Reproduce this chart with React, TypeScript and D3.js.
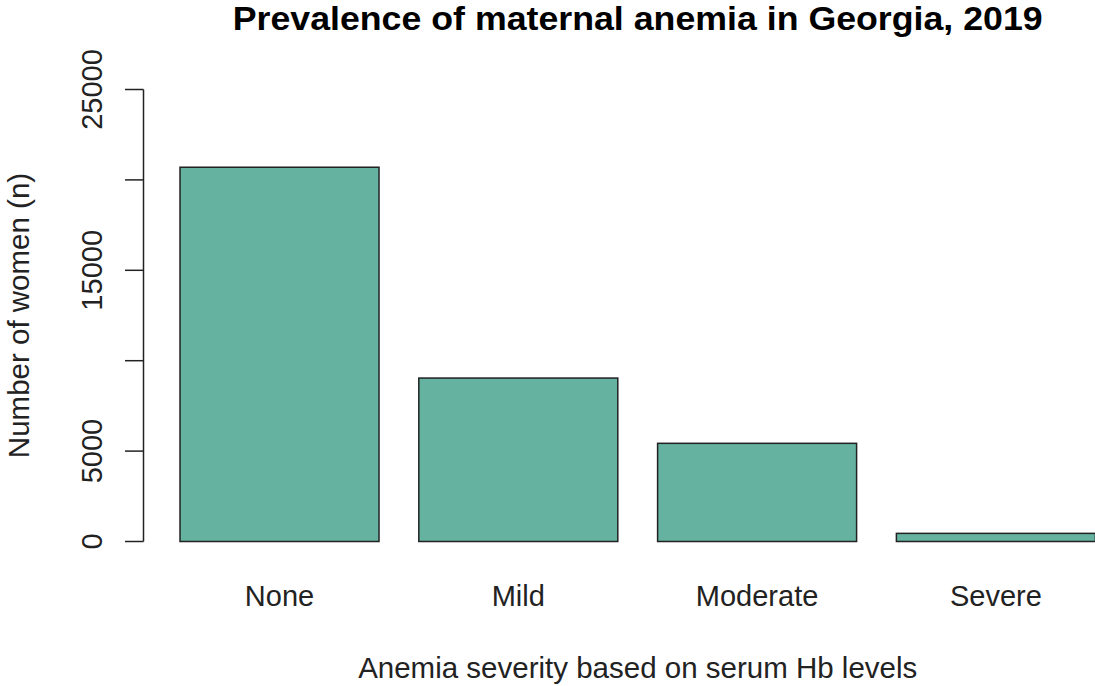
import * as d3 from 'd3';

const categories = ['None', 'Mild', 'Moderate', 'Severe'];
const counts = [20700, 9040, 5430, 450];
const yTicks = [0, 5000, 10000, 15000, 20000, 25000];
const yTickLabels = ['0', '5000', '', '15000', '', '25000'];

const W = 1095;
const H = 686;
const font = 'Liberation Sans, Arial, Helvetica, sans-serif';

export default function App() {
  // R barplot style: width 1, space 0.2, axis 4% extended
  const x = d3
    .scaleBand<string>()
    .domain(categories)
    .range([143.4, 1132])
    .paddingInner(1 / 6)
    .paddingOuter(0.1533);

  const y = d3.scaleLinear().domain([0, 25000]).range([541.5, 89.5]);
  const plotCenter = (143.4 + 1132) / 2;

  return (
    <svg
      width={W}
      height={H}
      style={{ position: 'absolute', left: 0, top: 0, background: '#fff' }}
      fontFamily={font}
    >
      <text
        x={plotCenter}
        y={30}
        textAnchor="middle"
        fontWeight="bold"
        fontSize={33}
        textLength={810}
        lengthAdjust="spacingAndGlyphs"
      >
        Prevalence of maternal anemia in Georgia, 2019
      </text>

      {categories.map((c, i) => (
        <rect
          key={c}
          x={x(c)}
          y={y(counts[i])}
          width={x.bandwidth()}
          height={y(0) - y(counts[i])}
          fill="#66b2a1"
          stroke="#222"
          strokeWidth={1.5}
        />
      ))}

      {/* y axis */}
      <line x1={143.5} x2={143.5} y1={y(0)} y2={y(25000)} stroke="#222" strokeWidth={1.5} />
      {yTicks.map((t, i) => (
        <g key={t}>
          <line x1={125} x2={143.5} y1={y(t)} y2={y(t)} stroke="#222" strokeWidth={1.5} />
          <text
            transform={`translate(102,${y(t)}) rotate(-90)`}
            textAnchor="middle"
            fontSize={29}
            fill="#222"
          >
            {yTickLabels[i]}
          </text>
        </g>
      ))}

      {categories.map((c) => (
        <text
          key={c}
          x={(x(c) ?? 0) + x.bandwidth() / 2}
          y={606}
          textAnchor="middle"
          fontSize={29}
          fill="#222"
        >
          {c}
        </text>
      ))}

      <text x={plotCenter} y={678} textAnchor="middle" fontSize={29.5} fill="#222">
        Anemia severity based on serum Hb levels
      </text>
      <text
        transform={`translate(29,${(y(0) + y(25000)) / 2}) rotate(-90)`}
        textAnchor="middle"
        fontSize={29.5}
        fill="#222"
      >
        Number of women (n)
      </text>
    </svg>
  );
}
